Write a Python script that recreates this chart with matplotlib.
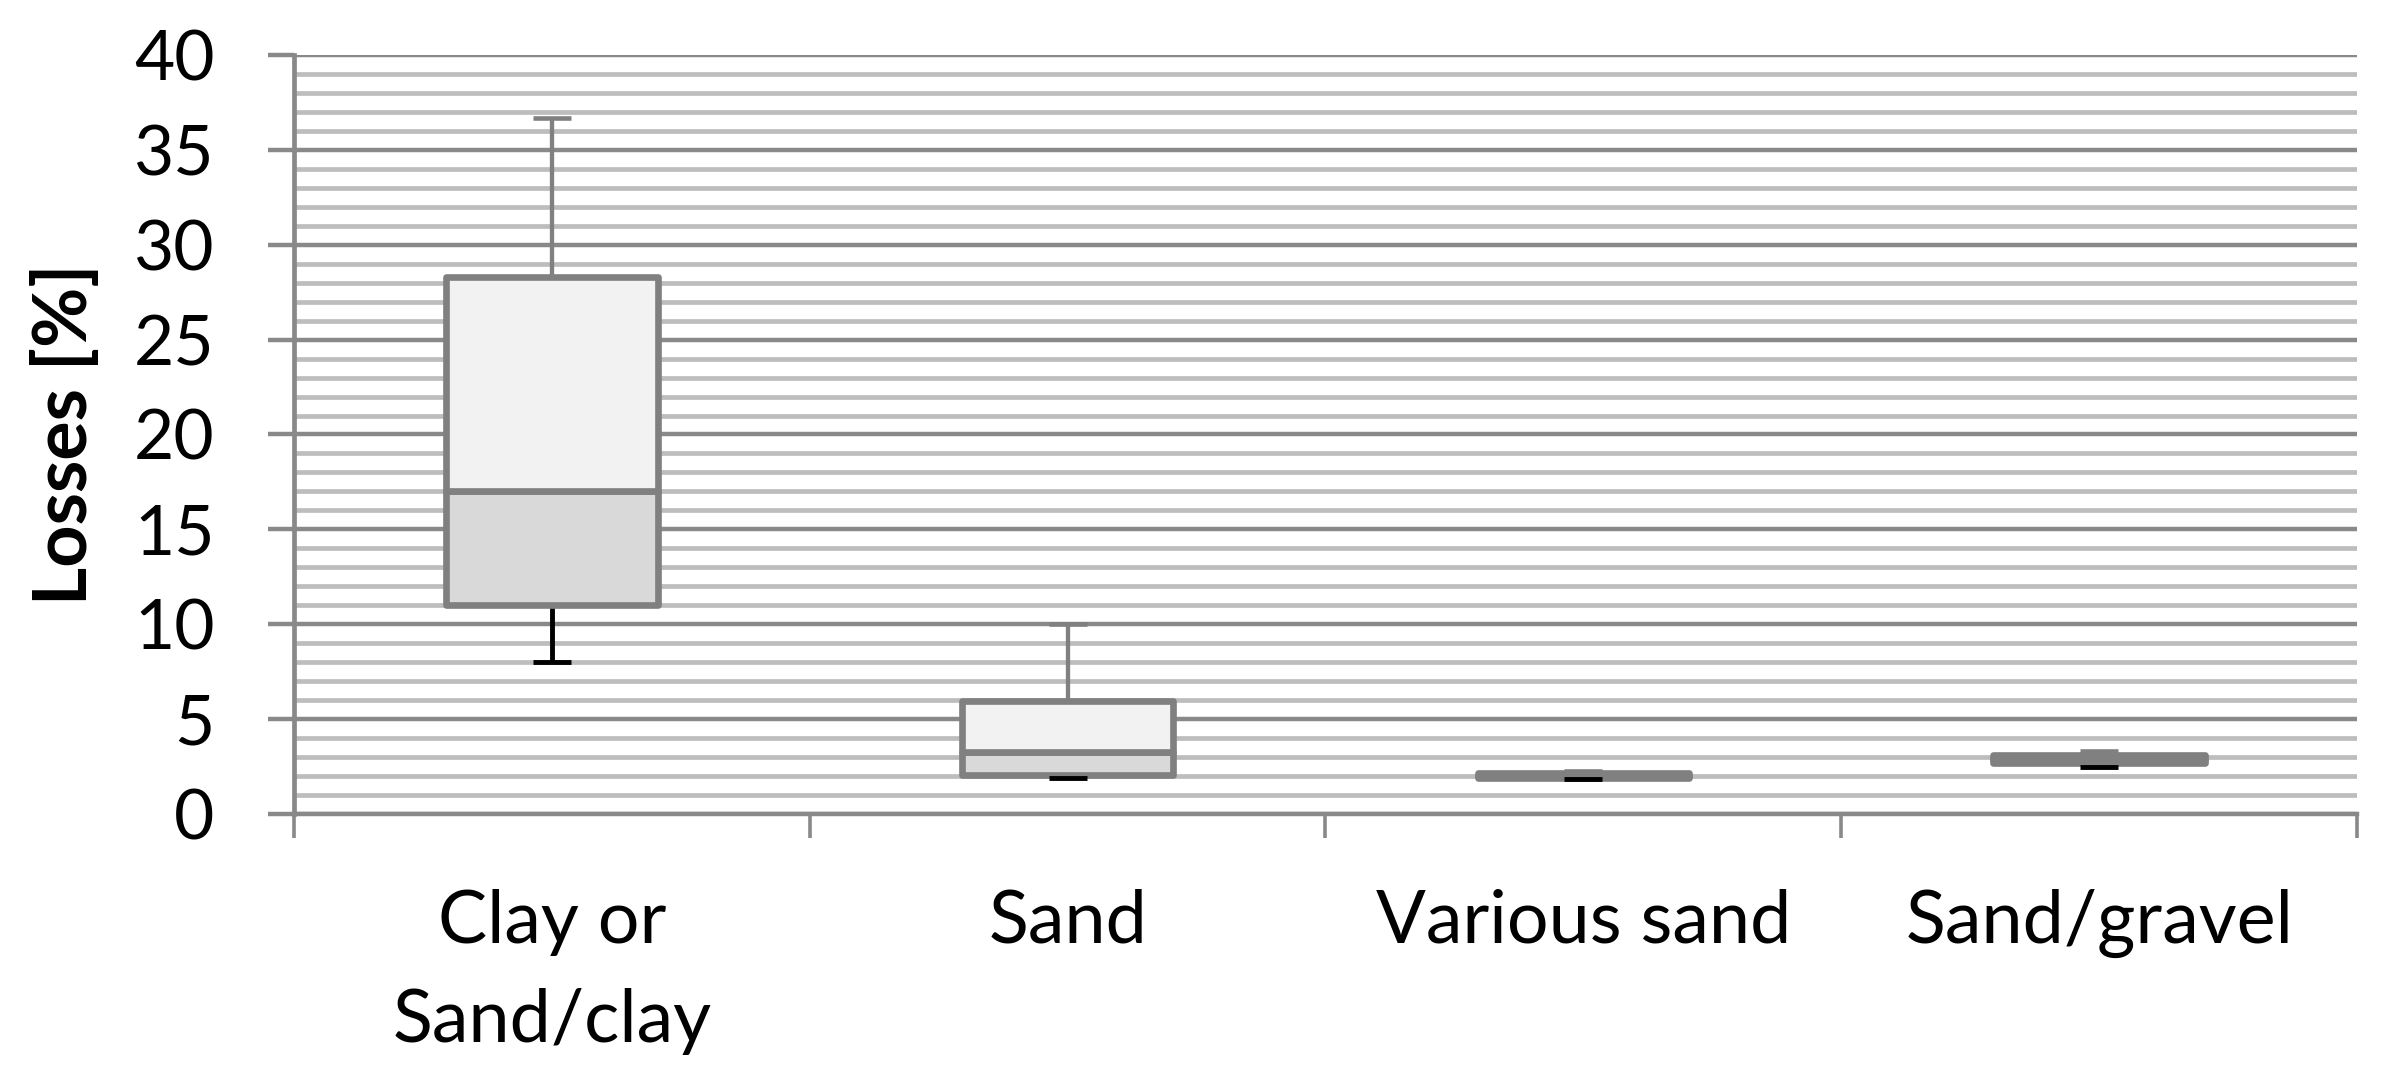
import numpy as np
import matplotlib.pyplot as plt
from matplotlib.ticker import MultipleLocator, FixedLocator

plt.rcParams['font.family'] = ['Lato', 'DejaVu Sans']

categories = ["Clay or\nSand/clay", "Sand", "Various sand", "Sand/gravel"]
mins = [8.0, 1.88, 1.85, 2.46]
q1 = [11.0, 2.05, 1.88, 2.67]
medians = [17.0, 3.25, 2.0, 2.9]
q3 = [28.3, 5.97, 2.14, 3.09]
maxs = [36.7, 10.0, 2.29, 3.31]

edge = "#808080"
major_c = "#898989"
minor_c = "#bdbdbd"

fig = plt.figure(figsize=(24.03, 10.85), dpi=100)
ax = fig.add_axes([0.1223, 0.2498, 0.8586, 0.6995])

x = np.arange(len(categories))
w = 0.41
capw = 0.037

# box halves (Excel stacked-bar style)
ax.bar(x, np.array(medians) - np.array(q1), bottom=q1, width=w,
       color="#d9d9d9", edgecolor=edge, linewidth=4.8, joinstyle="round", zorder=3)
ax.bar(x, np.array(q3) - np.array(medians), bottom=medians, width=w,
       color="#f2f2f2", edgecolor=edge, linewidth=4.8, joinstyle="round", zorder=3)

# whiskers
ax.vlines(x, q3, maxs, color=edge, linewidth=3.1, zorder=2)
ax.hlines(maxs, x - capw, x + capw, color=edge, linewidth=3.3, zorder=4)
ax.vlines(x, mins, q1, color="black", linewidth=3.5, zorder=2)
ax.hlines(mins, x - capw, x + capw, color="black", linewidth=3.5, zorder=4)

ax.set_xlim(-0.5, len(categories) - 0.5)
ax.set_ylim(0, 40)

ax.yaxis.set_major_locator(MultipleLocator(5))
ax.yaxis.set_minor_locator(MultipleLocator(1))
ax.set_axisbelow(True)
ax.yaxis.grid(True, which="minor", color=minor_c, linewidth=3.4, zorder=0)
ax.yaxis.grid(True, which="major", color=major_c, linewidth=3.2, zorder=1)
ax.xaxis.grid(False)

ax.xaxis.set_major_locator(FixedLocator(np.arange(len(categories) + 1) - 0.5))
ax.xaxis.set_major_formatter(plt.NullFormatter())
ax.set_xticks(x, categories, minor=True)

ax.tick_params(axis="y", which="major", length=19, width=3.2, color=major_c,
               labelsize=50, pad=38)
ax.tick_params(axis="y", which="minor", length=0)
ax.tick_params(axis="x", which="major", length=17, width=2.6, color=major_c)
ax.tick_params(axis="x", which="minor", length=0, labelsize=53, pad=54)
for lab in ax.get_xticklabels(minor=True):
    lab.set_linespacing(1.6)

for s in ["top", "right"]:
    ax.spines[s].set_visible(False)
ax.spines["left"].set_color(major_c)
ax.spines["left"].set_linewidth(3.4)
ax.spines["bottom"].set_color(major_c)
ax.spines["bottom"].set_linewidth(3.2)

ax.set_ylabel("Losses [%]", fontsize=53, fontweight="bold")
ax.yaxis.set_label_coords(-0.094, 0.5)

fig.savefig("out.png", dpi=100)
